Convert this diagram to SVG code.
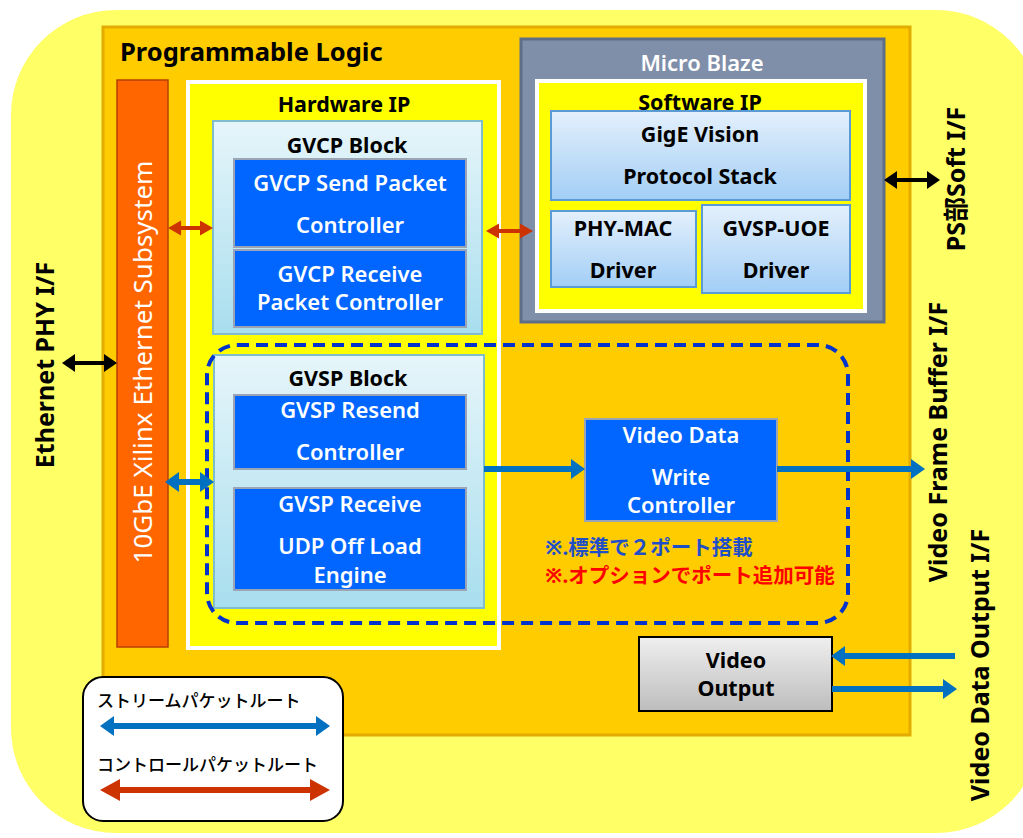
<svg xmlns="http://www.w3.org/2000/svg" width="1023" height="838" viewBox="0 0 1023 838">
<style>
text{font-family:"Noto Sans","Noto Sans CJK JP",sans-serif;}
.t{font-weight:bold;fill:#000;text-anchor:middle;font-size:21.5px}
.w{font-weight:600;fill:#fff;text-anchor:middle;font-size:22px}
.blue{fill:#0066FF;stroke:#9AA4B4;stroke-width:2}
.cyan{fill:url(#gCyan);stroke:#7FBCCD;stroke-width:2}
.sw{fill:url(#gSw);stroke:#5B9BD5;stroke-width:2}
.side{font-weight:bold;fill:#000;text-anchor:middle;font-size:25px}
.red{stroke:#CC3300;stroke-width:4;fill:none;marker-start:url(#mRed);marker-end:url(#mRed)}
.bl{stroke:#0070C0;stroke-width:6;fill:none}
.blk{stroke:#000;stroke-width:4;fill:none;marker-start:url(#mBlk);marker-end:url(#mBlk)}
</style>
<defs>
<linearGradient id="gCyan" x1="0" y1="0" x2="0" y2="1"><stop offset="0" stop-color="#E6F5FA"/><stop offset="1" stop-color="#A8DEEE"/></linearGradient>
<linearGradient id="gSw" x1="0" y1="0" x2="0" y2="1"><stop offset="0" stop-color="#E4F0FC"/><stop offset="1" stop-color="#A2CEF6"/></linearGradient>
<linearGradient id="gGray" x1="0" y1="0" x2="0" y2="1"><stop offset="0" stop-color="#EFEFEF"/><stop offset="1" stop-color="#BDBDBD"/></linearGradient>
<marker id="mRed" markerUnits="userSpaceOnUse" markerWidth="14" markerHeight="16" refX="1" refY="7.5" orient="auto-start-reverse"><path d="M0,0 L13,7.5 L0,15 z" fill="#CC3300"/></marker>
<marker id="mRedL" markerUnits="userSpaceOnUse" markerWidth="21" markerHeight="23" refX="1" refY="11" orient="auto-start-reverse"><path d="M0,0 L20,11 L0,22 z" fill="#CC3300"/></marker>
<marker id="mBlue" markerUnits="userSpaceOnUse" markerWidth="15" markerHeight="21" refX="1" refY="10" orient="auto-start-reverse"><path d="M0,0 L14,10 L0,20 z" fill="#0070C0"/></marker>
<marker id="mBlk" markerUnits="userSpaceOnUse" markerWidth="14" markerHeight="19" refX="1" refY="9" orient="auto-start-reverse"><path d="M0,0 L13,9 L0,18 z" fill="#000"/></marker>
</defs>

<g id="outer">
<rect x="11" y="10" width="1030" height="823" rx="105" fill="#FFFF66"/>
</g>

<g id="programmable-logic">
<rect x="103" y="27" width="807" height="708" fill="#FFCC00" stroke="#E3AC00" stroke-width="3"/>
<text x="120" y="61" font-size="25.5" font-weight="bold" fill="#000">Programmable Logic</text>
</g>

<g id="eth-subsystem">
<rect x="117" y="80" width="51" height="567" fill="#FF6600" stroke="#B83E00" stroke-width="1.5"/>
<text transform="translate(152,362) rotate(-90)" text-anchor="middle" font-size="26" fill="#fff">10GbE Xilinx Ethernet Subsystem</text>
</g>

<g id="hardware-ip">
<rect x="188" y="82" width="311" height="566" fill="#FFFF00" stroke="#fff" stroke-width="4"/>
<text x="344" y="112" class="t">Hardware IP</text>
</g>

<g id="gvcp-block">
<rect x="213" y="121" width="269" height="213" class="cyan"/>
<text x="347" y="153" class="t">GVCP Block</text>
</g>
<g id="gvcp-send">
<rect x="234" y="159" width="232" height="88" class="blue"/>
<text x="350" y="191" class="w">GVCP Send Packet</text>
<text x="350" y="233" class="w">Controller</text>
</g>
<g id="gvcp-receive">
<rect x="234" y="250" width="232" height="77" class="blue"/>
<text x="350" y="282" class="w">GVCP Receive</text>
<text x="350" y="310" class="w">Packet Controller</text>
</g>

<g id="micro-blaze">
<rect x="521" y="39" width="363" height="283" fill="#7F8FA9" stroke="#5F6E86" stroke-width="3"/>
<text x="702" y="71" class="w">Micro Blaze</text>
</g>
<g id="software-ip">
<rect x="537" y="81" width="328" height="230" fill="#FFFF00" stroke="#fff" stroke-width="4"/>
<text x="700" y="110" class="t">Software IP</text>
</g>
<g id="gige-stack">
<rect x="551" y="111" width="299" height="89" class="sw"/>
<text x="700" y="142" class="t">GigE Vision</text>
<text x="700" y="184" class="t">Protocol Stack</text>
</g>
<g id="phy-mac">
<rect x="551" y="211" width="145" height="76" class="sw"/>
<text x="623" y="236" class="t">PHY-MAC</text>
<text x="623" y="278" class="t">Driver</text>
</g>
<g id="gvsp-uoe">
<rect x="702" y="205" width="148" height="88" class="sw"/>
<text x="776" y="236" class="t">GVSP-UOE</text>
<text x="776" y="278" class="t">Driver</text>
</g>

<g id="gvsp-block">
<rect x="214" y="355" width="270" height="253" class="cyan"/>
<text x="348" y="386" class="t">GVSP Block</text>
</g>
<g id="gvsp-resend">
<rect x="234" y="395" width="232" height="74" class="blue"/>
<text x="350" y="418" class="w">GVSP Resend</text>
<text x="350" y="460" class="w">Controller</text>
</g>
<g id="gvsp-receive">
<rect x="234" y="488" width="232" height="102" class="blue"/>
<text x="350" y="512" class="w">GVSP Receive</text>
<text x="350" y="554" class="w">UDP Off Load</text>
<text x="350" y="583" class="w">Engine</text>
</g>

<g id="port-group">
<rect x="207" y="345" width="641" height="278" rx="30" fill="none" stroke="#0033CC" stroke-width="4" stroke-dasharray="12,7"/>
</g>

<g id="video-write">
<rect x="585" y="419" width="192" height="102" class="blue"/>
<text x="681" y="443" class="w">Video Data</text>
<text x="681" y="485" class="w">Write</text>
<text x="681" y="513" class="w">Controller</text>
</g>

<g id="notes">
<text x="545" y="555" font-size="20.5" font-weight="bold" fill="#1F4FC8">※.標準で２ポート搭載</text>
<text x="545" y="583" font-size="20.5" font-weight="bold" fill="#FF0000">※.オプションでポート追加可能</text>
</g>

<g id="video-output">
<rect x="639" y="637" width="193" height="74" fill="url(#gGray)" stroke="#000" stroke-width="2"/>
<text x="736" y="668" class="t">Video</text>
<text x="736" y="696" class="t">Output</text>
</g>

<g id="interfaces">
<text transform="translate(54,365) rotate(-90)" class="side">Ethernet PHY I/F</text>
<text transform="translate(965,179) rotate(-90)" class="side" font-size="26">PS部Soft I/F</text>
<text transform="translate(947,442) rotate(-90)" class="side">Video Frame Buffer I/F</text>
<text transform="translate(989,665) rotate(-90)" class="side" font-size="24">Video Data Output I/F</text>
</g>

<g id="legend">
<rect x="83" y="677" width="260" height="144" rx="20" fill="#fff" stroke="#000" stroke-width="2"/>
<text x="97" y="707" font-size="17" font-weight="500" fill="#000">ストリームパケットルート</text>
<line x1="113" y1="726" x2="317" y2="726" class="bl" marker-start="url(#mBlue)" marker-end="url(#mBlue)"/>
<text x="97" y="771" font-size="17" font-weight="500" fill="#000">コントロールパケットルート</text>
<line x1="119" y1="790" x2="311" y2="790" stroke="#CC3300" stroke-width="6" marker-start="url(#mRedL)" marker-end="url(#mRedL)"/>
</g>

<g id="connectors">
<line x1="180" y1="228" x2="201" y2="228" class="red"/>
<line x1="498" y1="231" x2="521" y2="231" class="red"/>
<line x1="74" y1="363" x2="105" y2="363" class="blk"/>
<line x1="896" y1="180" x2="928" y2="180" class="blk"/>
<line x1="178" y1="482" x2="201" y2="482" class="bl" stroke-width="5" marker-start="url(#mBlue)" marker-end="url(#mBlue)"/>
<line x1="484" y1="469" x2="572" y2="469" class="bl" marker-end="url(#mBlue)"/>
<line x1="777" y1="469" x2="912" y2="469" class="bl" marker-end="url(#mBlue)"/>
<line x1="955" y1="656" x2="844" y2="656" class="bl" marker-end="url(#mBlue)"/>
<line x1="832" y1="689" x2="944" y2="689" class="bl" marker-end="url(#mBlue)"/>
</g>
</svg>
